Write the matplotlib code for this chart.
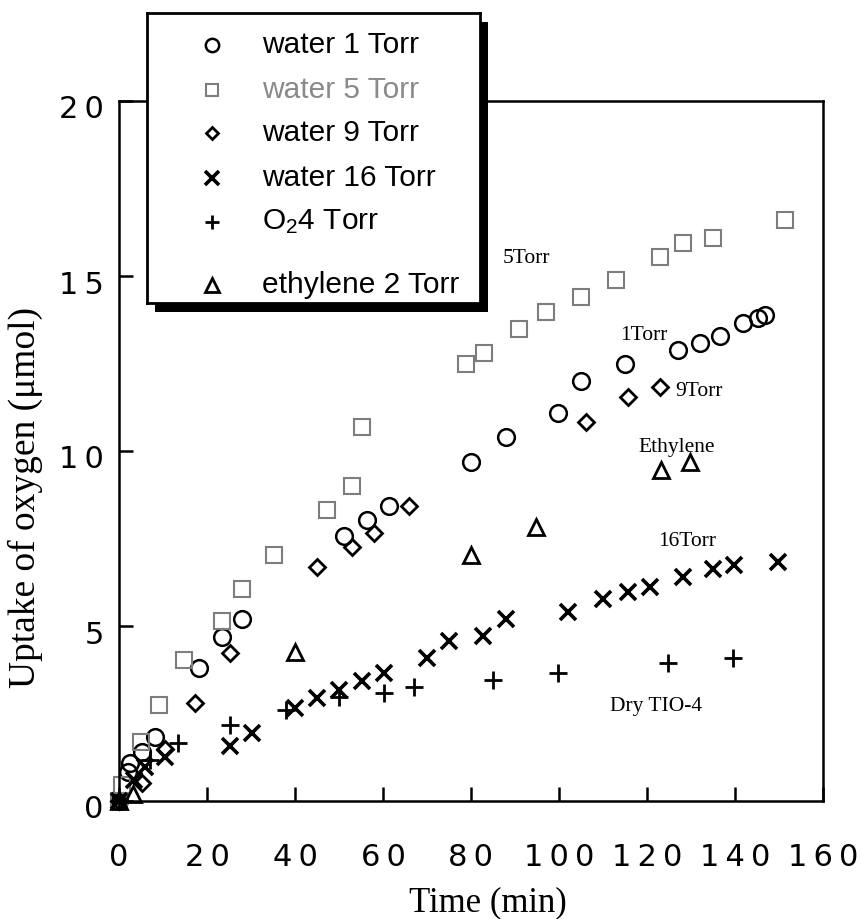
import numpy as np
import matplotlib.pyplot as plt
from matplotlib import transforms
from matplotlib.patches import Rectangle

plt.rcParams['mathtext.fontset'] = 'custom'
plt.rcParams['mathtext.rm'] = 'Liberation Sans'
plt.rcParams['mathtext.it'] = 'Liberation Sans:italic'

# data: time (min), uptake of oxygen (umol)
w1_t = [0, 2.0, 2.5, 5.2, 8.2, 18.2, 23.4, 27.9, 51.2, 56.3, 61.4, 80.0, 88.0, 99.8,
        105.0, 115.0, 127.0, 132.0, 136.6, 141.8, 145.2, 146.8]
w1_y = [0, 0.83, 1.09, 1.4, 1.83, 3.8, 4.69, 5.2, 7.57, 8.03, 8.43, 9.69, 10.4, 11.1,
        12.0, 12.5, 12.9, 13.1, 13.3, 13.66, 13.8, 13.9]

w5_t = [0, 0.6, 5.0, 9.1, 14.8, 23.4, 27.9, 35.2, 47.3, 53.0, 55.2, 78.9, 83.0, 90.9,
        97.0, 105.0, 113.0, 123.0, 128.2, 135.0, 151.4]
w5_y = [0, 0.45, 1.69, 2.74, 4.03, 5.14, 6.06, 7.03, 8.31, 9.0, 10.7, 12.5, 12.8, 13.5,
        13.97, 14.4, 14.9, 15.54, 15.94, 16.1, 16.6]

w9_t = [0, 5.2, 10.5, 17.3, 25.2, 45.0, 53.0, 58.0, 65.9, 106.1, 115.7, 123.0]
w9_y = [0, 0.51, 1.5, 2.8, 4.22, 6.68, 7.26, 7.66, 8.43, 10.83, 11.54, 11.83]

w16_t = [0, 3.5, 5.9, 10.5, 25.2, 30.2, 40.0, 45.0, 50.0, 55.2, 60.2, 70.0, 75.0, 82.7,
         88.0, 102.0, 110.0, 115.7, 120.7, 128.2, 135.0, 139.7, 149.8]
w16_y = [0, 0.6, 0.97, 1.26, 1.57, 1.94, 2.66, 2.94, 3.17, 3.43, 3.66, 4.09, 4.58, 4.71,
         5.2, 5.4, 5.77, 5.97, 6.11, 6.4, 6.64, 6.75, 6.83]

o2_t = [0, 7.0, 13.4, 25.2, 38.0, 50.0, 60.2, 67.0, 85.0, 99.8, 124.8, 139.5]
o2_y = [0, 1.17, 1.66, 2.17, 2.6, 2.97, 3.09, 3.26, 3.46, 3.66, 3.94, 4.09]

eth_t = [0, 3.2, 40.0, 80.0, 94.8, 123.2, 129.8]
eth_y = [0, 0.2, 4.26, 7.03, 7.83, 9.46, 9.69]

labels = ['water 1 Torr', 'water 5 Torr', 'water 9 Torr', 'water 16 Torr',
          'O$_\\mathrm{2}$4 Torr', 'ethylene 2 Torr']

xticks = [0, 20, 40, 60, 80, 100, 120, 140, 160]
xticklabels = ['0', '2\u20090', '4\u20090', '6\u20090', '8\u20090',
               '1\u20090\u20090', '1\u20092\u20090', '1\u20094\u20090', '1\u20096\u20090']
yticks = [0, 5, 10, 15, 20]
yticklabels = ['0', '5', '1\u20090', '1\u20095', '2\u20090']

notes = ['5Torr', '1Torr', '9Torr', 'Ethylene', '16Torr', 'Dry TIO-4']
notes_x = [87.3, 113.9, 126.4, 118.0, 122.5, 111.6]
notes_y = [15.5, 13.3, 11.7, 10.1, 7.4, 2.7]

series = [(w1_t, w1_y), (w5_t, w5_y), (w9_t, w9_y), (w16_t, w16_y), (o2_t, o2_y), (eth_t, eth_y)]
styles = [dict(marker='o', ms=12, mfc='none', mec='k', mew=1.8),
          dict(marker='s', ms=11.5, mfc='none', mec='#7d7d7d', mew=1.5),
          dict(marker='D', ms=7.8, mfc='none', mec='k', mew=2.0),
          dict(marker='x', ms=12, mec='k', mew=2.6),
          dict(marker='+', ms=13, mec='k', mew=2.0),
          dict(marker='^', ms=12, mfc='none', mec='k', mew=2.0)]
text_colors = ['k', '#8a8a8a', 'k', 'k', 'k', 'k']

fig = plt.figure(figsize=(8.62, 9.19), dpi=100)
ax = fig.add_axes([119/862, 1 - 801/919, 704/862, 700/919])

for (t, y), st in zip(series, styles):
    ax.plot(t, y, ls='none', clip_on=False, **st)

ax.set_xlim(0, 160)
ax.set_ylim(0, 20)
ax.set_xticks(xticks)
ax.set_xticklabels(xticklabels)
ax.set_yticks(yticks)
ax.set_yticklabels(yticklabels)
ax.tick_params(axis='both', direction='in', length=10, width=1.8, labelsize=22)
ax.tick_params(axis='x', pad=30)
ax.tick_params(axis='y', pad=11)
for s in ax.spines.values():
    s.set_linewidth(1.8)

off = transforms.ScaledTranslation(0, -0.06, fig.dpi_scale_trans)
for lab in ax.get_yticklabels():
    lab.set_transform(lab.get_transform() + off)

for s, x, y in zip(notes, notes_x, notes_y):
    ax.text(x, y, s, family='Liberation Serif', size=15.5, ha='left', va='center')

fig.text(488/862, 1 - 903/919, 'Time (min)', family='Liberation Serif', size=25,
         ha='center', va='center')
fig.text(25/862, 1 - 498/919, 'Uptake of oxygen (\u03bcmol)', family='Liberation Serif',
         size=27, rotation=90, ha='center', va='center')

# legend box with a drop shadow
shadow = Rectangle((155/862, 1 - 312/919), 333/862, 290/919, transform=fig.transFigure,
                   facecolor='black', edgecolor='none', zorder=3)
fig.add_artist(shadow)
lax = fig.add_axes([147/862, 1 - 303/919, 333/862, 290/919])
lax.set_zorder(4)
lax.set_xlim(147, 480)
lax.set_ylim(303, 13)
lax.set_xticks([])
lax.set_yticks([])
for s in lax.spines.values():
    s.set_linewidth(2)
rows = [45, 90, 133, 178, 222, 285]
for r, st, lab, c in zip(rows, styles, labels, text_colors):
    st2 = dict(st)
    st2['ms'] = st['ms'] * 0.8
    lax.plot([212], [r], ls='none', **st2)
    lax.text(262, r, lab, family='Liberation Sans', size=21.5, color=c, ha='left', va='center')

fig.savefig('out.png', dpi=100)
